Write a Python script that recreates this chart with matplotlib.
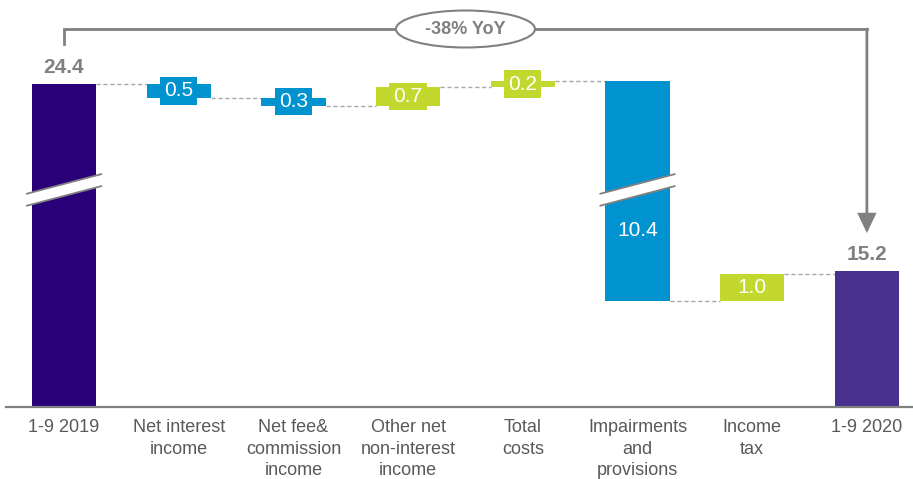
import numpy as np
import matplotlib
matplotlib.use("Agg")
import matplotlib.pyplot as plt
from matplotlib.patches import Polygon, Ellipse
from matplotlib import transforms

plt.rcParams['font.family'] = ['Liberation Sans', 'DejaVu Sans']

# ---- data ----
categories = ["1-9 2019", "Net interest\nincome", "Net fee&\ncommission\nincome",
              "Other net\nnon-interest\nincome", "Total\ncosts", "Impairments\nand\nprovisions",
              "Income\ntax", "1-9 2020"]
start_total = 24.4
changes = [-0.5, -0.3, 0.7, 0.2, -10.4, 1.0]
end_total = 15.2
change_labels = ["0.5", "0.3", "0.7", "0.2", "10.4", "1.0"]
yoy_label = "-38% YoY"

# ---- colours ----
c_start = "#2A0078"
c_end = "#48308F"
c_neg = "#0093D0"
c_pos = "#C2D82F"
grey = "#808080"
txt_grey = "#595959"

# ---- broken y scale ----
brk = 18.2   # value where axis is broken
gap = 2.3    # amount of value removed


def fwd(v):
    v = np.asarray(v, dtype=float)
    return np.where(v <= brk, v, np.where(v >= brk + gap, v - gap, brk))


def inv(y):
    y = np.asarray(y, dtype=float)
    return np.where(y <= brk, y, y + gap)


W, H = 913, 479
fig = plt.figure(figsize=(W / 100, H / 100), dpi=100)
ax = fig.add_axes([6 / W, (H - 407) / H, (W - 6) / W, 407 / H])
ax.set_yscale('function', functions=(fwd, inv))
ax.set_xlim(-0.506, 7.402)
ax.set_ylim(10.2, 27.5)

n = len(categories)
x = np.arange(n)
bw = 0.56

# running totals
levels = [start_total]
for c in changes:
    levels.append(levels[-1] + c)

# start / end bars
ax.bar(x[0], start_total, width=bw, color=c_start, zorder=2)
ax.bar(x[-1], end_total, width=bw, color=c_end, zorder=2)

# floating change bars
for i, c in enumerate(changes):
    lo, hi = sorted([levels[i], levels[i + 1]])
    col = c_pos if c > 0 else c_neg
    ax.bar(x[i + 1], hi - lo, bottom=lo, width=bw, color=col, zorder=2)

# dashed connectors
for i in range(n - 1):
    lvl = levels[i]
    ax.plot([x[i] + bw / 2, x[i + 1] - bw / 2], [lvl, lvl], ls=(0, (3, 2)),
            color="#A6A6A6", lw=1, zorder=1)

# labels for change bars
for i, c in enumerate(changes):
    col = c_pos if c > 0 else c_neg
    lo, hi = sorted([levels[i], levels[i + 1]])
    xi = x[i + 1]
    if abs(c) > 5:
        ax.annotate(change_labels[i], xy=(xi, brk), xytext=(0, -29),
                    textcoords='offset points', ha='center', va='center',
                    color='white', fontsize=15, zorder=5)
    else:
        ym = inv((fwd(lo) + fwd(hi)) / 2)
        ax.text(xi, float(ym), change_labels[i], ha='center', va='center',
                color='white', fontsize=15, zorder=5,
                bbox=dict(boxstyle='square,pad=0.2', fc=col, ec='none'))

# total labels
for xi, v in [(x[0], start_total), (x[-1], end_total)]:
    ax.annotate(f"{v:.1f}", xy=(xi, v), xytext=(0, 12), textcoords='offset points',
                ha='center', va='center', color=grey, fontsize=15,
                fontweight='bold', zorder=5)

# axis break markers
for xi in [x[0], x[5]]:
    tr = fig.dpi_scale_trans + transforms.ScaledTranslation(xi, brk, ax.transData)
    poly = Polygon([(-0.38, -0.04), (0.38, 0.16), (0.38, 0.04), (-0.38, -0.16)],
                   closed=True, fc='white', ec='none', transform=tr, zorder=4,
                   clip_on=False)
    ax.add_patch(poly)
    ax.plot([-0.38, 0.38], [-0.04, 0.16], color=grey, lw=1.3, transform=tr,
            zorder=4, clip_on=False, solid_capstyle='butt')
    ax.plot([-0.38, 0.38], [-0.16, 0.04], color=grey, lw=1.3, transform=tr,
            zorder=4, clip_on=False, solid_capstyle='butt')

# YoY bracket
bt = transforms.blended_transform_factory(ax.transData, ax.transAxes)
y_top = (407 - 29) / 407
y_left = (407 - 44) / 407
y_tip = (407 - 233) / 407
ax.plot([x[0], x[0], x[-1]], [y_left, y_top, y_top], color=grey, lw=2.0,
        transform=bt, clip_on=False, zorder=3, solid_joinstyle='miter')
ax.annotate("", xy=(x[-1], y_tip), xycoords=bt, xytext=(x[-1], y_top), textcoords=bt,
            arrowprops=dict(arrowstyle='-|>,head_length=0.75,head_width=0.36',
                            mutation_scale=15, color=grey, lw=2.0,
                            shrinkA=0, shrinkB=0, joinstyle='miter'),
            zorder=3)
xc = (x[3] + x[4]) / 2
etr = fig.dpi_scale_trans + transforms.ScaledTranslation(xc, y_top, bt)
ax.add_patch(Ellipse((0, 0), 1.39, 0.37, fc='white', ec=grey, lw=1.5,
                     transform=etr, zorder=4, clip_on=False))
ax.text(xc, y_top, yoy_label, transform=bt, ha='center', va='center', color=grey,
        fontsize=13, fontweight='bold', zorder=5)

# axes styling
for s in ['top', 'right', 'left']:
    ax.spines[s].set_visible(False)
ax.spines['bottom'].set_color(grey)
ax.spines['bottom'].set_linewidth(1.6)
ax.set_yticks([])
ax.yaxis.set_minor_locator(matplotlib.ticker.NullLocator())
ax.set_xticks(x)
ax.set_xticklabels(categories, color=txt_grey, fontsize=13, linespacing=1.32)
ax.tick_params(axis='x', length=0, pad=9)

fig.savefig("out.png", dpi=100)
